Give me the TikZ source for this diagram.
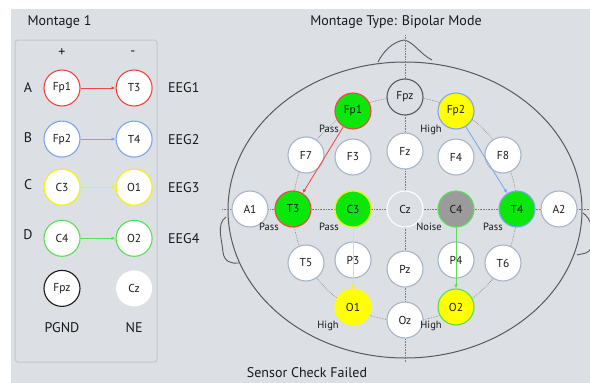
\documentclass[tikz,border=0pt]{standalone}
\usepackage{fontspec}
\setmainfont{PT Sans}
\usetikzlibrary{positioning,arrows.meta}
\definecolor{Panel}{HTML}{DCDFE3}
\definecolor{BoxLine}{HTML}{C3C8CF}
\definecolor{Rim}{HTML}{A8B5C8}
\definecolor{HeadLine}{HTML}{5A5A5A}
\definecolor{Ink}{HTML}{1A1A1A}
\definecolor{SigRed}{HTML}{F04545}
\definecolor{SigBlue}{HTML}{7FA4EE}
\definecolor{SigYellow}{HTML}{F4F400}
\definecolor{SigGreen}{HTML}{55E055}
\definecolor{Good}{HTML}{0BE60B}
\definecolor{Warn}{HTML}{FFFF00}
\definecolor{Noisy}{HTML}{9B9B9B}

\begin{document}
\begin{tikzpicture}[x=1pt,y=-1pt,every node/.style={text=Ink},
  electrode/.style={circle,minimum size=36pt,inner sep=0pt,fill=white,draw=Rim,line width=1.1pt,font=\fontsize{11.5}{13}\selectfont},
  status/.style={font=\fontsize{10.5}{12}\selectfont,inner sep=1pt},
  title/.style={font=\fontsize{14}{16}\selectfont},
  rowlabel/.style={font=\fontsize{14}{16}\selectfont},
  guide/.style={HeadLine!80,densely dotted,line width=0.6pt},
  signal/.style={-{Latex[length=4pt,width=3.5pt]},line width=0.8pt}]
  \fill[white] (0,0) rectangle (590,383);
  \fill[Panel] (11,9) rectangle (590,383);
  \useasboundingbox (0,0) rectangle (590,383);

  % left panel: montage list
  \node[title,anchor=west] (montage) at (24,22) {Montage 1};
  \draw[BoxLine,line width=1pt,rounded corners=3pt] (15,40) rectangle (157,362);
  \node[rowlabel] (plus) at (62,53) {+};
  \node[rowlabel] (minus) at (133,53) {-};

  \node[electrode,draw=SigRed] (lfp1) at (62,88) {Fp1};
  \node[electrode,draw=SigRed,right=35pt of lfp1] (lt3) {T3};
  \node[electrode,draw=SigBlue,below=14pt of lfp1] (lfp2) {Fp2};
  \node[electrode,draw=SigBlue,right=35pt of lfp2] (lt4) {T4};
  \node[electrode,draw=SigYellow,below=11pt of lfp2] (lc3) {C3};
  \node[electrode,draw=SigYellow,right=35pt of lc3] (lo1) {O1};
  \node[electrode,draw=SigGreen,below=14pt of lc3] (lc4) {C4};
  \node[electrode,draw=SigGreen,right=35pt of lc4] (lo2) {O2};
  \node[electrode,draw=Ink,below=13pt of lc4] (lfpz) {Fpz};
  \node[electrode,draw=none,right=35pt of lfpz] (lcz) {Cz};

  \node[rowlabel] at (28,88) {A};
  \node[rowlabel] at (28,138) {B};
  \node[rowlabel] at (28,185) {C};
  \node[rowlabel] at (28,235) {D};
  \node[rowlabel,right=12pt of lt3] (eeg1) {EEG1};
  \node[rowlabel,right=12pt of lt4] (eeg2) {EEG2};
  \node[rowlabel,right=12pt of lo1] (eeg3) {EEG3};
  \node[rowlabel,right=12pt of lo2] (eeg4) {EEG4};
  \node[rowlabel,below=12pt of lfpz] (pgnd) {PGND};
  \node[rowlabel,below=12pt of lcz] (ne) {NE};

  \draw[signal,SigRed] (lfp1) -- (lt3);
  \draw[signal,SigBlue] (lfp2) -- (lt4);
  \draw[signal,SigYellow] (lc3) -- (lo1);
  \draw[signal,SigGreen] (lc4) -- (lo2);

  % right panel: head map
  \node[title] (mode) at (396,22) {Montage Type: Bipolar Mode};
  \draw[HeadLine,line width=1pt] (405,210) ellipse [x radius=177, y radius=148];
  \draw[HeadLine,line width=0.9pt] (378,62) .. controls (383,52) and (392,42) .. (404,40)
    .. controls (414,42) and (420,54) .. (432,60);
  \draw[HeadLine,line width=0.9pt] (226,217) .. controls (216,224) and (222,240) .. (223,252)
    .. controls (224,262) and (232,264) .. (239,263);
  \draw[HeadLine,line width=0.9pt] (583,213) .. controls (596,222) and (596,250) .. (586,253)
    -- (577,255);
  \draw[guide] (405,35) -- (405,362);
  \draw[guide] (222,209) -- (590,209);
  \draw[guide] (405,209) circle [radius=112];

  \node[electrode,fill=Panel,draw=HeadLine] (fpz) at (405,97) {Fpz};
  \node[electrode,fill=Good,draw=SigRed,label={[status]below left:Pass}] (fp1) at (353,111) {Fp1};
  \node[electrode,fill=Warn,draw=SigBlue,label={[status]below left:High}] (fp2) at (456,111) {Fp2};
  \node[electrode] (f7) at (306,155) {F7};
  \node[electrode] (f3) at (353,157) {F3};
  \node[electrode] (fz) at (405,151) {Fz};
  \node[electrode] (f4) at (456,157) {F4};
  \node[electrode] (f8) at (503,155) {F8};
  \node[electrode] (a1) at (250,209) {A1};
  \node[electrode,fill=Good,draw=SigRed,label={[status]below left:Pass}] (t3) at (293,209) {T3};
  \node[electrode,fill=Good,draw=SigYellow,label={[status]below left:Pass}] (c3) at (353,209) {C3};
  \node[electrode,fill=Panel,draw=white] (cz) at (405,209) {Cz};
  \node[electrode,fill=Noisy,draw=SigGreen,label={[status]below left:Noise}] (c4) at (456,209) {C4};
  \node[electrode,fill=Good,draw=SigBlue,label={[status]below left:Pass}] (t4) at (517,209) {T4};
  \node[electrode] (a2) at (559,209) {A2};
  \node[electrode] (t5) at (306,263) {T5};
  \node[electrode] (p3) at (353,260) {P3};
  \node[electrode] (pz) at (405,269) {Pz};
  \node[electrode] (p4) at (456,260) {P4};
  \node[electrode] (t6) at (503,263) {T6};
  \node[electrode,fill=Warn,draw=Warn,label={[status]below left:High}] (o1) at (353,307) {O1};
  \node[electrode] (oz) at (405,320) {Oz};
  \node[electrode,fill=Warn,draw=SigGreen,label={[status]below left:High}] (o2) at (456,307) {O2};

  \draw[signal,SigRed] (fp1) -- (t3);
  \draw[signal,SigBlue] (fp2) -- (t4);
  \draw[signal,SigYellow] (c3) -- (o1);
  \draw[signal,SigGreen] (c4) -- (o2);

  \node[title] (check) at (307,373) {Sensor Check Failed};
\end{tikzpicture}
\end{document}
